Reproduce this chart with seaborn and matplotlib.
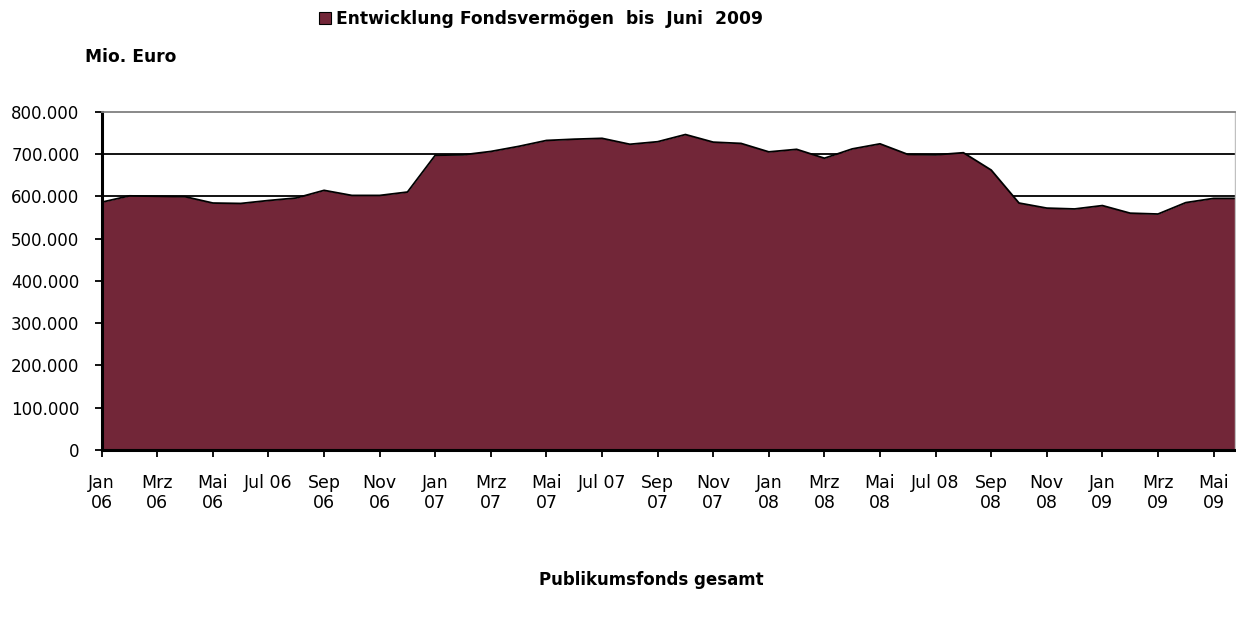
import matplotlib
matplotlib.use("Agg")
import matplotlib.pyplot as plt
from matplotlib.patches import Patch
import pandas as pd
import seaborn as sns

# ─── DATA ───────────────────────────────────────────────────────────────────
MONTHS = [
    "Jan 06", "Feb 06", "Mrz 06", "Apr 06", "Mai 06", "Jun 06",
    "Jul 06", "Aug 06", "Sep 06", "Okt 06", "Nov 06", "Dez 06",
    "Jan 07", "Feb 07", "Mrz 07", "Apr 07", "Mai 07", "Jun 07",
    "Jul 07", "Aug 07", "Sep 07", "Okt 07", "Nov 07", "Dez 07",
    "Jan 08", "Feb 08", "Mrz 08", "Apr 08", "Mai 08", "Jun 08",
    "Jul 08", "Aug 08", "Sep 08", "Okt 08", "Nov 08", "Dez 08",
    "Jan 09", "Feb 09", "Mrz 09", "Apr 09", "Mai 09", "Jun 09",
]
VERMOEGEN = [
    586, 601, 600, 599, 584, 583, 590, 596, 614, 602, 602, 610,
    697, 698, 706, 718, 732, 735, 737, 723, 729, 746, 728, 725,
    705, 711, 690, 712, 724, 699, 698, 703, 662, 584, 572, 570,
    578, 560, 558, 585, 595, 595,
]  # Mio. Euro, in Tausend
TICK_LABELS = [
    "Jan\n06", "Mrz\n06", "Mai\n06", "Jul 06", "Sep\n06", "Nov\n06",
    "Jan\n07", "Mrz\n07", "Mai\n07", "Jul 07", "Sep\n07", "Nov\n07",
    "Jan\n08", "Mrz\n08", "Mai\n08", "Jul 08", "Sep\n08", "Nov\n08",
    "Jan\n09", "Mrz\n09", "Mai\n09",
]
Y_TICKS = [0, 100, 200, 300, 400, 500, 600, 700, 800]
Y_LABELS = ["0", "100.000", "200.000", "300.000", "400.000",
            "500.000", "600.000", "700.000", "800.000"]

FILL = "#722638"

df = pd.DataFrame({"idx": range(len(MONTHS)), "monat": MONTHS,
                   "wert": [v * 1000 for v in VERMOEGEN]})

sns.set_style("white")
plt.rcParams["font.family"] = ["DejaVu Sans"]
plt.rcParams["text.color"] = "black"
plt.rcParams["xtick.color"] = "black"
plt.rcParams["ytick.color"] = "black"
plt.rcParams["axes.labelcolor"] = "black"

fig = plt.figure(figsize=(12.36, 6.18), dpi=100)
ax = fig.add_axes([101.7 / 1236, 1 - 450 / 618, (1235 - 101.7) / 1236, (450 - 111.7) / 618])

# gridlines behind the area
for y in Y_TICKS[1:-1]:
    ax.axhline(y * 1000, color="black", lw=1.3, zorder=0)

ax.fill_between(df["idx"], df["wert"], 0, color=FILL, lw=0, zorder=1)
sns.lineplot(data=df, x="idx", y="wert", color="black", lw=1.3, ax=ax, zorder=2)

ax.set_xlim(0, 40.77)
ax.set_ylim(0, 800000)
ax.set_xticks(range(0, len(MONTHS), 2))
ax.set_xticklabels(TICK_LABELS, fontsize=12.5, linespacing=1.2)
ax.set_yticks([y * 1000 for y in Y_TICKS])
ax.set_yticklabels(Y_LABELS, fontsize=12)
ax.tick_params(axis="x", direction="out", length=5, width=1.3, pad=12, bottom=True)
ax.tick_params(axis="y", direction="out", length=5, width=1.3, pad=11, left=True)
ax.set_xlabel("")
ax.set_ylabel("")

for side in ["left", "bottom"]:
    ax.spines[side].set_color("black")
    ax.spines[side].set_linewidth(2.2)
ax.spines["top"].set_color("#808080")
ax.spines["top"].set_linewidth(1.3)
ax.spines["right"].set_color("#c0c0c0")
ax.spines["right"].set_linewidth(1)

handle = Patch(facecolor=FILL, edgecolor="black", lw=0.8)
fig.legend(handles=[handle], labels=["Entwicklung Fondsvermögen  bis  Juni  2009"],
           loc="center left", bbox_to_anchor=(319 / 1236, 1 - 19 / 618),
           frameon=False, prop={"weight": "bold", "size": 12.3},
           handlelength=0.7, handleheight=0.7, handletextpad=0.3,
           borderpad=0, borderaxespad=0)

fig.text(85 / 1236, 1 - 57 / 618, "Mio. Euro", fontsize=12.3, fontweight="bold",
         ha="left", va="center")
fig.text(651 / 1236, 1 - 580 / 618, "Publikumsfonds gesamt", fontsize=12,
         fontweight="bold", ha="center", va="center")

fig.savefig("out.png", dpi=100)
